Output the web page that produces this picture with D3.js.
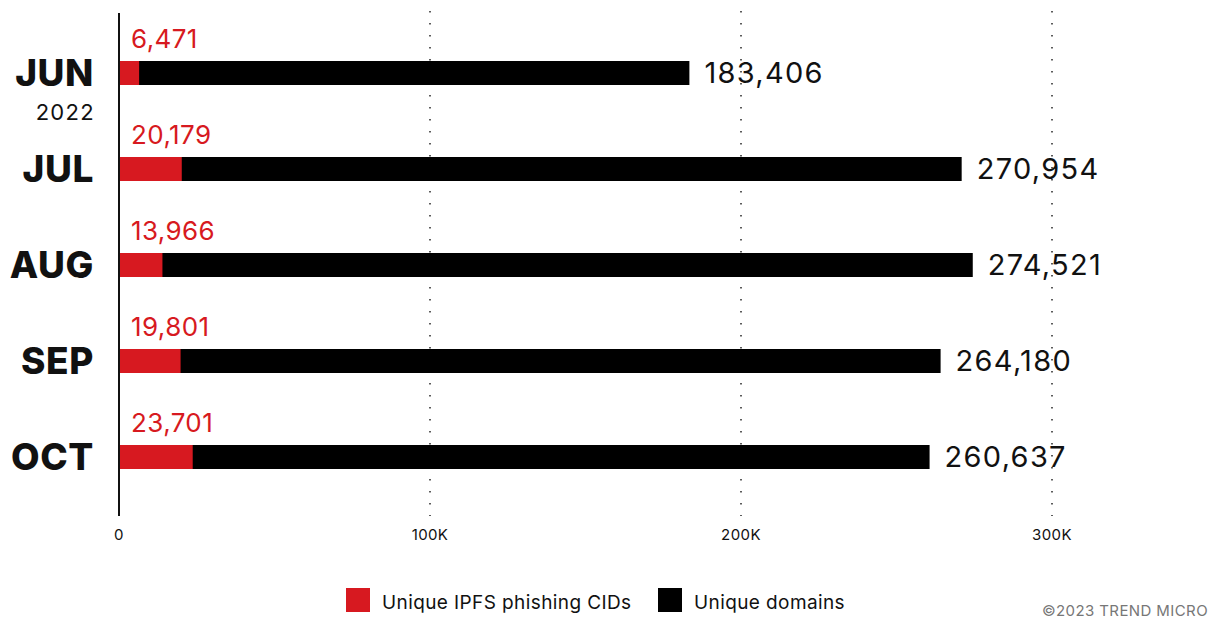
<!DOCTYPE html>
<html>
<head>
<meta charset="utf-8">
<script src="https://cdn.jsdelivr.net/npm/d3@7"></script>
<style>
  html, body { margin: 0; padding: 0; background: #ffffff; }
  svg { display: block; font-family: "Inter", "Liberation Sans", sans-serif; }
</style>
</head>
<body>
<svg id="chart" width="1214" height="622"></svg>
<script>
// Monthly counts, June–October 2022
const months = ["JUN", "JUL", "AUG", "SEP", "OCT"];
const phishingCIDs = [6471, 20179, 13966, 19801, 23701];
const uniqueDomains = [183406, 270954, 274521, 264180, 260637];
const tickValues = [0, 100000, 200000, 300000];
const tickLabels = ["0", "100K", "200K", "300K"];
const legendLabels = ["Unique IPFS phishing CIDs", "Unique domains"];

const RED = "#d71920";
const BLACK = "#000000";

const svg = d3.select("#chart");

const x = d3.scaleLinear().domain([0, 300000]).range([119, 1052]);
const y = d3.scaleBand().domain(months).range([25, 505])
  .paddingInner(0.75).paddingOuter(0.375);

const fmt = d3.format(",");

// dotted vertical gridlines
svg.append("g").selectAll("line")
  .data(tickValues.slice(1))
  .join("line")
  .attr("x1", d => x(d)).attr("x2", d => x(d))
  .attr("y1", 11).attr("y2", 516)
  .attr("stroke", "#333")
  .attr("stroke-width", 1.6)
  .attr("stroke-dasharray", "1.6,10.4");

// tick labels
svg.append("g").selectAll("text")
  .data(tickValues)
  .join("text")
  .attr("x", d => x(d))
  .attr("y", 540)
  .attr("text-anchor", "middle")
  .attr("font-size", 15)
  .attr("letter-spacing", 0.4)
  .attr("fill", "#111")
  .text((d, i) => tickLabels[i]);

// domains bars (full length)
svg.append("g").selectAll("rect")
  .data(months)
  .join("rect")
  .attr("x", x(0))
  .attr("y", m => y(m))
  .attr("width", (m, i) => x(uniqueDomains[i]) - x(0))
  .attr("height", y.bandwidth())
  .attr("fill", BLACK);

// phishing CID bars overlaid from zero
svg.append("g").selectAll("rect")
  .data(months)
  .join("rect")
  .attr("x", x(0))
  .attr("y", m => y(m))
  .attr("width", (m, i) => x(phishingCIDs[i]) - x(0))
  .attr("height", y.bandwidth())
  .attr("fill", RED);

// red value labels above bars
svg.append("g").selectAll("text")
  .data(months)
  .join("text")
  .attr("x", x(0) + 12)
  .attr("y", m => y(m) - 13)
  .attr("font-size", 26)
  .attr("fill", RED)
  .attr("letter-spacing", 0.4)
  .text((m, i) => fmt(phishingCIDs[i]));

// black value labels at bar ends
svg.append("g").selectAll("text")
  .data(months)
  .join("text")
  .attr("x", (m, i) => x(uniqueDomains[i]) + 15)
  .attr("y", m => y(m) + y.bandwidth() / 2 + 10)
  .attr("font-size", 29)
  .attr("fill", "#111")
  .attr("letter-spacing", 1.3)
  .text((m, i) => fmt(uniqueDomains[i]));

// month labels
svg.append("g").selectAll("text")
  .data(months)
  .join("text")
  .attr("x", 94)
  .attr("y", m => y(m) + y.bandwidth() / 2 + 13)
  .attr("text-anchor", "end")
  .attr("font-size", 37)
  .attr("font-weight", 800)
  .attr("letter-spacing", 0.6)
  .attr("fill", "#111")
  .text(m => m);

// year label under the first month
svg.append("text")
  .attr("x", 95)
  .attr("y", 120)
  .attr("text-anchor", "end")
  .attr("font-size", 22)
  .attr("letter-spacing", 1.3)
  .attr("fill", "#111")
  .text("2022");

// vertical axis line
svg.append("line")
  .attr("x1", x(0)).attr("x2", x(0))
  .attr("y1", 13).attr("y2", 516)
  .attr("stroke", "#111")
  .attr("stroke-width", 2);

// legend
const legend = svg.append("g");
const legendX = [346, 658];
const legendColors = [RED, BLACK];
legendLabels.forEach((label, i) => {
  legend.append("rect")
    .attr("x", legendX[i]).attr("y", 588)
    .attr("width", 24).attr("height", 24)
    .attr("fill", legendColors[i]);
  legend.append("text")
    .attr("x", legendX[i] + 36).attr("y", 609)
    .attr("font-size", 19)
    .attr("letter-spacing", 0.4)
    .attr("fill", "#111")
    .text(label);
});

// credit
svg.append("text")
  .attr("x", 1208).attr("y", 616)
  .attr("text-anchor", "end")
  .attr("font-size", 15)
  .attr("fill", "#777")
  .attr("letter-spacing", 0.4)
  .text("©2023 TREND MICRO");
</script>
</body>
</html>
